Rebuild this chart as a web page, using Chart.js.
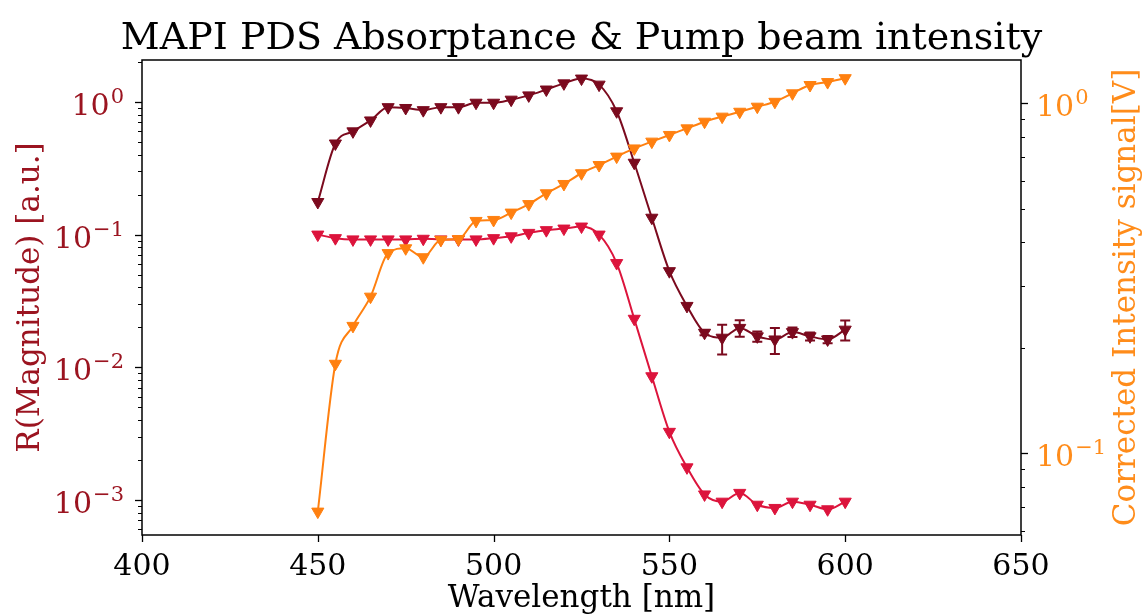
<!DOCTYPE html>
<html><head><meta charset="utf-8">
<script src="https://cdn.jsdelivr.net/npm/chart.js@4.4.0/dist/chart.umd.min.js"></script>
<style>html,body{margin:0;padding:0;background:#fff;overflow:hidden}#wrap{width:1145px;height:614px;position:relative}canvas{display:block}</style>
</head><body><div id="wrap"><canvas id="c" width="1145" height="614"></canvas></div>
<script>
// ---- data ----
const wavelengths = [450,455,460,465,470,475,480,485,490,495,500,505,510,515,520,525,530,535,540,545,550,555,560,565,570,575,580,585,590,595,600];
const absorptance = [0.176,0.486,0.60,0.725,0.913,0.90,0.867,0.913,0.913,0.986,0.986,1.04,1.12,1.24,1.38,1.50,1.35,0.85,0.348,0.134,0.053,0.029,0.0182,0.0167,0.0198,0.0171,0.0162,0.0184,0.0171,0.0162,0.0192];
const absorptanceErr = [0,0,0,0,0,0,0,0,0,0,0,0,0,0,0,0,0,0,0,0,0,0,0.0008,0.0042,0.0028,0.0015,0.0036,0.0015,0.0012,0.0010,0.0033];
const secondSignal = [0.100,0.094,0.092,0.092,0.092,0.092,0.093,0.092,0.092,0.092,0.094,0.097,0.103,0.108,0.111,0.115,0.100,0.061,0.0232,0.00855,0.00326,0.00176,0.00110,0.00097,0.00113,0.00092,0.00087,0.00097,0.00092,0.00085,0.00097];
const pumpIntensity = [0.068,0.180,0.231,0.280,0.373,0.385,0.363,0.407,0.409,0.461,0.464,0.487,0.515,0.553,0.588,0.631,0.666,0.704,0.743,0.777,0.812,0.848,0.886,0.916,0.946,0.978,1.01,1.068,1.128,1.15,1.18];
const xTickValues = [400,450,500,550,600,650];
const leftTickExps = [-3,-2,-1,0];
const rightTickExps = [-1,0];
const xRange = [400,650];
const leftRange = [5.44e-4, 2.07];
const rightRange = [0.0583, 1.33];

const titleText = 'MAPI PDS Absorptance & Pump beam intensity';
const xTitle = 'Wavelength [nm]';
const leftTitle = 'R(Magnitude) [a.u.]';
const rightTitle = 'Corrected Intensity signal[V]';

const C_DARK = '#7b0a1e', C_CRIMSON = '#dc143c', C_ORANGE = '#ff8010';
const C_LEFTTXT = '#9b1420', C_RIGHTTXT = '#ff8c1a';
const FONT = "'DejaVu Serif', serif";

function pts(arr){ return wavelengths.map((w,i)=>({x:w, y:arr[i]})); }

function drawPow(ctx, x, yTick, exp, align, color){
  const base = '10';
  const sup = exp < 0 ? '\u2212' + String(-exp) : String(exp);
  ctx.fillStyle = color;
  ctx.textBaseline = 'alphabetic';
  ctx.textAlign = 'left';
  ctx.font = '30px ' + FONT;
  const wb = ctx.measureText(base).width;
  ctx.font = '21px ' + FONT;
  const ws = ctx.measureText(sup).width;
  const x0 = align === 'right' ? x - wb - ws : x;
  const baseY = yTick + 13;
  ctx.font = '30px ' + FONT;
  ctx.fillText(base, x0, baseY);
  ctx.font = '21px ' + FONT;
  ctx.fillText(sup, x0 + wb + 1, baseY - 12);
}

const tickPlugin = {
  id: 'ticksFrame',
  afterDraw(chart){
    const ctx = chart.ctx, a = chart.chartArea;
    ctx.save();
    ctx.strokeStyle = '#000';
    const drawLog = (scale, side) => {
      const lo = Math.floor(Math.log10(scale.min)), hi = Math.ceil(Math.log10(scale.max));
      for (let k = lo; k <= hi; k++) {
        for (let m = 1; m <= 9; m++) {
          const v = m * Math.pow(10, k);
          if (v < scale.min || v > scale.max) continue;
          const y = Math.round(scale.getPixelForValue(v)) + 0.5;
          const len = m === 1 ? 7 : 4;
          ctx.lineWidth = m === 1 ? 1.3 : 1;
          ctx.beginPath();
          if (side === 'left') { ctx.moveTo(a.left, y); ctx.lineTo(a.left - len, y); }
          else { ctx.moveTo(a.right, y); ctx.lineTo(a.right + len, y); }
          ctx.stroke();
        }
      }
    };
    drawLog(chart.scales.yL, 'left');
    drawLog(chart.scales.yR, 'right');
    const xs = chart.scales.x;
    ctx.lineWidth = 1.3;
    xTickValues.forEach(v => {
      const x = Math.round(xs.getPixelForValue(v)) + 0.5;
      ctx.beginPath(); ctx.moveTo(x, a.bottom); ctx.lineTo(x, a.bottom + 7); ctx.stroke();
    });
    // frame
    ctx.lineWidth = 1.5;
    ctx.strokeRect(a.left, a.top, a.right - a.left, a.bottom - a.top);
    // power-of-ten tick labels
    leftTickExps.forEach(e => drawPow(ctx, a.left - 19, chart.scales.yL.getPixelForValue(Math.pow(10, e)), e, 'right', C_LEFTTXT));
    rightTickExps.forEach(e => drawPow(ctx, a.right + 15, chart.scales.yR.getPixelForValue(Math.pow(10, e)), e, 'left', C_RIGHTTXT));
    // title centred over the axes
    ctx.fillStyle = '#000';
    ctx.font = '38px ' + FONT;
    ctx.textAlign = 'center';
    ctx.textBaseline = 'alphabetic';
    ctx.fillText(titleText, (a.left + a.right) / 2, 49);
    // right axis title (reads bottom to top, like the reference)
    ctx.fillStyle = C_RIGHTTXT;
    ctx.font = '31px ' + FONT;
    ctx.textBaseline = 'middle';
    ctx.translate(1127, (a.top + a.bottom) / 2);
    ctx.rotate(-Math.PI / 2);
    ctx.fillText(rightTitle, 0, 0);
    ctx.restore();
  }
};

const errorBarPlugin = {
  id: 'errorBars',
  afterDatasetsDraw(chart){
    const ctx = chart.ctx, xs = chart.scales.x, ys = chart.scales.yL;
    ctx.save();
    ctx.strokeStyle = C_DARK;
    ctx.lineWidth = 2;
    wavelengths.forEach((w, i) => {
      const e = absorptanceErr[i];
      if (!e) return;
      const x = xs.getPixelForValue(w);
      const y1 = ys.getPixelForValue(absorptance[i] + e);
      const y2 = ys.getPixelForValue(absorptance[i] - e);
      ctx.beginPath();
      ctx.moveTo(x, y1); ctx.lineTo(x, y2);
      ctx.moveTo(x - 5, y1); ctx.lineTo(x + 5, y1);
      ctx.moveTo(x - 5, y2); ctx.lineTo(x + 5, y2);
      ctx.stroke();
    });
    ctx.restore();
  }
};

function ds(label, arr, color, axis, order){
  return {
    label, data: pts(arr), yAxisID: axis, order,
    borderColor: color, backgroundColor: color, borderWidth: 2,
    pointStyle: 'triangle', pointRotation: 180, pointRadius: 7,
    pointBackgroundColor: color, pointBorderColor: color, pointBorderWidth: 1,
    cubicInterpolationMode: 'monotone', fill: false
  };
}

Chart.defaults.font.family = FONT;

new Chart(document.getElementById('c'), {
  type: 'line',
  data: { datasets: [
    ds('R magnitude', absorptance, C_DARK, 'yL', 2),
    ds('R magnitude 2', secondSignal, C_CRIMSON, 'yL', 1),
    ds('Corrected intensity', pumpIntensity, C_ORANGE, 'yR', 0)
  ]},
  options: {
    responsive: false, animation: false, devicePixelRatio: 1,
    layout: { padding: { top: 60, left: 0, right: 0, bottom: 0 } },
    plugins: {
      legend: { display: false }, tooltip: { enabled: false }, title: { display: false }
    },
    scales: {
      x: { type: 'linear', position: 'bottom', min: xRange[0], max: xRange[1],
        afterFit: s => { s.height = 79; },
        grid: { display: false, drawTicks: false }, border: { display: false },
        ticks: { stepSize: 50, color: '#000', padding: 14, autoSkip: false, maxRotation: 0,
          font: { family: FONT, size: 30 } },
        title: { display: true, text: xTitle, color: '#000', padding: { top: 0, bottom: 0 },
          font: { family: FONT, size: 31, lineHeight: 1.0 } } },
      yL: { type: 'logarithmic', position: 'left', min: leftRange[0], max: leftRange[1],
        afterFit: s => { s.width = 142; },
        grid: { display: false, drawTicks: false }, border: { display: false },
        ticks: { display: false },
        title: { display: true, text: leftTitle, color: C_LEFTTXT, padding: { top: 12, bottom: 0 },
          font: { family: FONT, size: 31, lineHeight: 1.2 } } },
      yR: { type: 'logarithmic', position: 'right', min: rightRange[0], max: rightRange[1],
        afterFit: s => { s.width = 124; },
        grid: { display: false, drawTicks: false }, border: { display: false },
        ticks: { display: false },
        title: { display: false } }
    }
  },
  plugins: [errorBarPlugin, tickPlugin]
});
</script></body></html>
